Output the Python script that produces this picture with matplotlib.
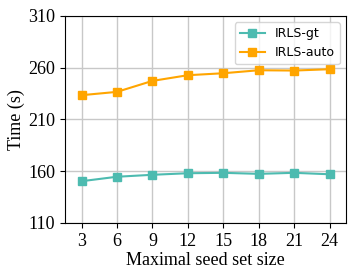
import matplotlib
matplotlib.use("Agg")
import matplotlib.pyplot as plt

seed_sizes = [3, 6, 9, 12, 15, 18, 21, 24]
irls_gt = [150.3, 154.6, 156.5, 158.0, 158.4, 157.4, 158.4, 157.0]
irls_auto = [233.4, 236.6, 247.2, 252.7, 254.6, 257.5, 257.2, 258.5]
yticks = [110, 160, 210, 260, 310]

plt.rcParams['font.family'] = ['Times New Roman', 'Liberation Serif', 'DejaVu Serif']
plt.rcParams['mathtext.fontset'] = 'stix'

fig = plt.figure(figsize=(3.55, 2.79), dpi=100)
ax = fig.add_axes([0.183, 0.201, 0.792, 0.742])

ax.plot(seed_sizes, irls_gt, color='#4dbbb0', marker='s', markersize=6, linewidth=1.5, label='IRLS-gt')
ax.plot(seed_sizes, irls_auto, color='#ffa500', marker='s', markersize=6, linewidth=1.5, label='IRLS-auto')

ax.set_xlim(1.6, 25.4)
ax.set_ylim(110, 310)
ax.set_xticks(seed_sizes)
ax.set_yticks(yticks)
ax.tick_params(labelsize=13)
ax.grid(True, color='#c8c8c8', linewidth=1)
ax.set_axisbelow(True)
ax.set_xlabel('Maximal seed set size', fontsize=13, labelpad=2)
ax.set_ylabel('Time (s)', fontsize=13, labelpad=2)

leg = ax.legend(loc='upper right', prop={'family': 'DejaVu Sans', 'size': 9}, fancybox=True, framealpha=0.8)

fig.savefig('out.png', dpi=100)
